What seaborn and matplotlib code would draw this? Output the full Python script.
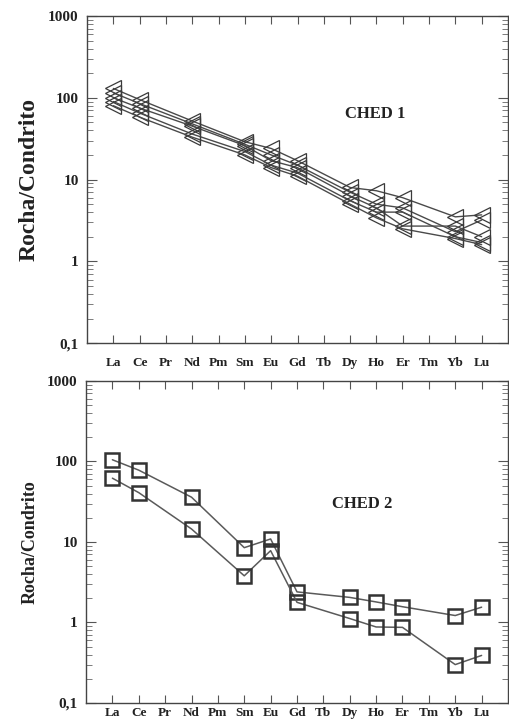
import matplotlib
matplotlib.use("Agg")
import matplotlib.pyplot as plt
import seaborn as sns
import pandas as pd
import numpy as np
from matplotlib.ticker import FixedLocator, LogLocator, NullFormatter, FixedFormatter

# ---------------- data ----------------
elements = ["La", "Ce", "Pr", "Nd", "Pm", "Sm", "Eu", "Gd", "Tb", "Dy", "Ho", "Er", "Tm", "Yb", "Lu"]
measured = ["La", "Ce", "Nd", "Sm", "Eu", "Gd", "Dy", "Ho", "Er", "Yb", "Lu"]

ched1_s1 = [130, 95, 52, 29, 24, 17, 8.0, 7.3, 6.0, 3.5, 3.7]
ched1_s2 = [115, 85, 48, 27, 20, 15, 7.0, 5.0, 4.5, 2.3, 3.2]
ched1_s3 = [100, 75, 45, 26, 17, 14, 6.3, 4.5, 2.7, 2.7, 2.0]
ched1_s4 = [90, 65, 36, 22, 15, 12, 5.5, 4.0, 4.0, 2.0, 1.7]
ched1_s5 = [80, 58, 33, 20, 14, 11, 5.0, 3.4, 2.5, 1.9, 1.6]

ched2_s1 = [105, 78, 36, 8.5, 10.9, 2.4, 2.05, 1.8, 1.57, 1.22, 1.55]
ched2_s2 = [62, 41, 14.5, 3.8, 7.8, 1.78, 1.12, 0.88, 0.87, 0.30, 0.39]

ytick_vals = [0.1, 1, 10, 100, 1000]
ytick_labels = ["0,1", "1", "10", "100", "1000"]


def long_df(series):
    rows = []
    for name, vals in series.items():
        for el, v in zip(measured, vals):
            rows.append({"sample": name, "pos": elements.index(el) + 1, "val": v})
    return pd.DataFrame(rows)


df1 = long_df({"A": ched1_s1, "B": ched1_s2, "C": ched1_s3, "D": ched1_s4, "E": ched1_s5})
df2 = long_df({"A": ched2_s1, "B": ched2_s2})

sns.set_theme(style="white")
plt.rcParams["font.family"] = ["Liberation Serif", "DejaVu Serif"]
plt.rcParams["font.weight"] = "bold"

fig = plt.figure(figsize=(5.09, 7.27), dpi=100)
ax1 = fig.add_axes([0.171, 0.528, 0.827, 0.450])
ax2 = fig.add_axes([0.169, 0.0330, 0.829, 0.4430])


def style_axis(ax, ylabel, ylab_size, xpad):
    ax.set_yscale("log")
    ax.set_ylim(0.1, 1000)
    ax.set_xlim(0, 16)
    ax.xaxis.set_major_locator(FixedLocator(list(range(1, 16))))
    ax.set_xticklabels(elements, fontsize=9.5, fontweight="bold")
    ax.yaxis.set_major_locator(FixedLocator(ytick_vals))
    ax.yaxis.set_major_formatter(FixedFormatter(ytick_labels))
    ax.yaxis.set_minor_locator(LogLocator(base=10, subs=np.arange(2, 10)))
    ax.yaxis.set_minor_formatter(NullFormatter())
    for lab in ax.get_yticklabels():
        lab.set_fontweight("bold")
        lab.set_fontsize(11)
    ax.tick_params(axis="x", which="major", direction="in", top=True, bottom=True,
                   length=6, width=0.8, color="#555555", pad=xpad, labelcolor="#222222")
    ax.tick_params(axis="y", which="major", direction="in", left=True, right=True,
                   length=7, width=0.8, color="#555555", pad=6, labelcolor="#222222")
    ax.tick_params(axis="y", which="minor", direction="in", left=True, right=True,
                   length=4, width=0.6, color="#666666")
    for s in ax.spines.values():
        s.set_color("#444444")
        s.set_linewidth(1.0)
    ax.set_xlabel("")
    ax.set_ylabel(ylabel, fontsize=ylab_size, fontweight="bold", color="#222222", labelpad=6)
    if ax.get_legend() is not None:
        ax.get_legend().remove()


sns.lineplot(data=df1, x="pos", y="val", units="sample", estimator=None, sort=False,
             ax=ax1, color="#4a4a4a", linewidth=1.0, marker="<", markersize=12,
             markerfacecolor="none", markeredgecolor="#3a3a3a", markeredgewidth=0.9)
style_axis(ax1, "Rocha/Condrito", 17, 10)
ax1.text(0.684, 0.70, "CHED 1", transform=ax1.transAxes, ha="center", va="center",
         fontsize=12, fontweight="bold", color="#222222")

sns.lineplot(data=df2, x="pos", y="val", units="sample", estimator=None, sort=False,
             ax=ax2, color="#5a5a5a", linewidth=1.1, marker="s", markersize=9.5,
             markerfacecolor="none", markeredgecolor="#333333", markeredgewidth=1.8)
style_axis(ax2, "Rocha/Condrito", 13, 3)
ax2.text(0.654, 0.617, "CHED 2", transform=ax2.transAxes, ha="center", va="center",
         fontsize=12, fontweight="bold", color="#222222")

fig.savefig("out.png", dpi=100)
